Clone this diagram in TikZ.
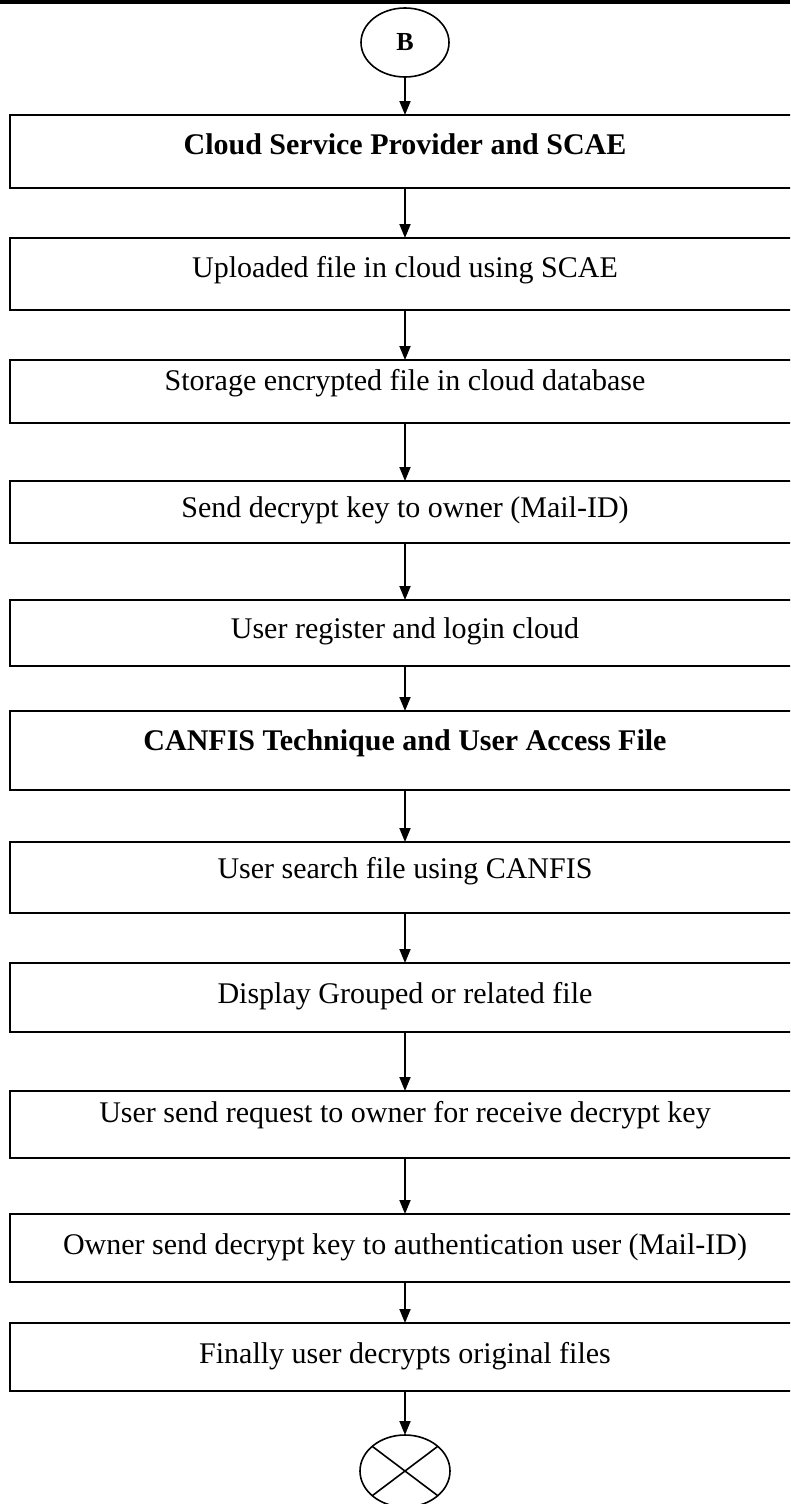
\documentclass[tikz,border=0pt]{standalone}
\usepackage{fontspec}
\setmainfont{Liberation Serif}
\usetikzlibrary{arrows.meta,shapes.geometric}
\begin{document}
\begin{tikzpicture}[x=1pt,y=-1pt,
  stepbox/.style={draw, line width=1.6pt, rectangle, minimum width=790pt, inner xsep=0pt, inner ysep=0pt, outer sep=0pt, font=\fontsize{30}{36}\selectfont},
  conn/.style={draw, ellipse, line width=1.6pt, inner sep=0pt, outer sep=0pt},
  arr/.style={line width=1.8pt, -{Triangle[width=11pt,length=14pt]}}
]
\useasboundingbox (0,0) rectangle (790,1504);
\clip (0,0) rectangle (790,1504);
\fill[black] (0,0) rectangle (790,4);

\node[conn, minimum width=88pt, minimum height=69pt, font=\fontsize{26}{30}\selectfont\bfseries] (start) at (405,42.5) {B};

\node[stepbox, text height=39pt, text depth=34pt, font=\fontsize{30}{36}\selectfont\bfseries] (b1) at (405,151.5) {Cloud Service Provider and SCAE};
\node[stepbox, text height=39pt, text depth=33pt] (b2) at (405,274) {Uploaded file in cloud using SCAE};
\node[stepbox, text height=30pt, text depth=33pt] (b3) at (405,391.5) {Storage encrypted file in cloud database};
\node[stepbox, text height=36pt, text depth=26pt] (b4) at (405,512) {Send decrypt key to owner (Mail-ID)};
\node[stepbox, text height=38pt, text depth=28pt] (b5) at (405,633) {User register and login cloud};
\node[stepbox, text height=39pt, text depth=40pt, font=\fontsize{30}{36}\selectfont\bfseries] (b6) at (405,750.5) {CANFIS Technique and User Access File};
\node[stepbox, text height=36pt, text depth=35pt] (b7) at (405,877.5) {User search file using CANFIS};
\node[stepbox, text height=40pt, text depth=29pt] (b8) at (405,997.5) {Display Grouped or related file};
\node[stepbox, text height=31pt, text depth=36pt] (b9) at (405,1124.5) {User send request to owner for receive decrypt key};
\node[stepbox, text height=40pt, text depth=28pt] (b10) at (405,1248) {Owner send decrypt key to authentication user (Mail-ID)};
\node[stepbox, text height=40pt, text depth=28pt] (b11) at (405,1357) {Finally user decrypts original files};

\node[conn, minimum width=90pt, minimum height=72pt] (stop) at (405,1471) {};
\draw[line width=1.6pt] (stop.37) -- (stop.217);
\draw[line width=1.6pt] (stop.143) -- (stop.323);

\draw[arr] (start.south) -- (b1.north);
\draw[arr] (b1.south) -- (b2.north);
\draw[arr] (b2.south) -- (b3.north);
\draw[arr] (b3.south) -- (b4.north);
\draw[arr] (b4.south) -- (b5.north);
\draw[arr] (b5.south) -- (b6.north);
\draw[arr] (b6.south) -- (b7.north);
\draw[arr] (b7.south) -- (b8.north);
\draw[arr] (b8.south) -- (b9.north);
\draw[arr] (b9.south) -- (b10.north);
\draw[arr] (b10.south) -- (b11.north);
\draw[arr] (b11.south) -- (stop.north);
\end{tikzpicture}
\end{document}
